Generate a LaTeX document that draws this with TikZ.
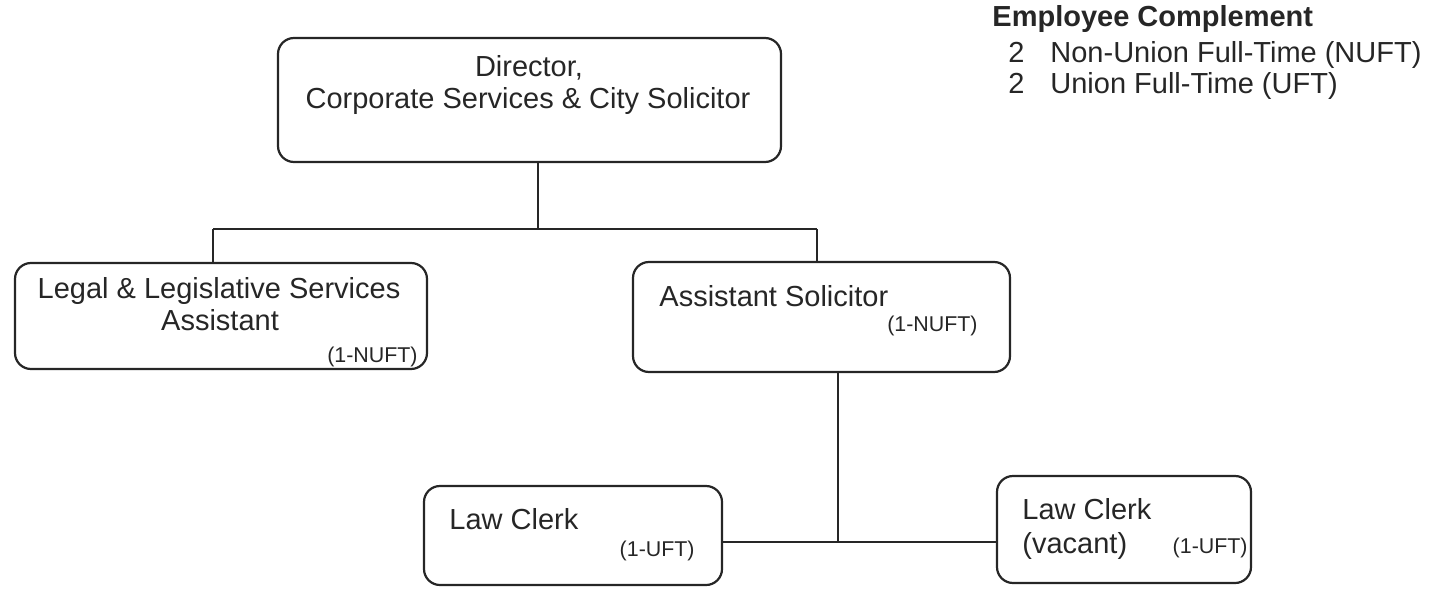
\documentclass[tikz,border=0pt]{standalone}
\usepackage{fontspec}
\setmainfont{Liberation Sans}
\begin{document}
\begin{tikzpicture}[x=0.5pt,y=-0.5pt,
		box/.style={draw=black!85,line width=1.1pt,rounded corners=8pt,inner sep=0pt},
		link/.style={draw=black!85,line width=0.8pt},
		txt/.style={font=\fontsize{14.5}{17}\selectfont,inner sep=0pt,text=black!85},
		small/.style={font=\fontsize{10.7}{13}\selectfont,inner sep=0pt,text=black!85}]
		\useasboundingbox (0,0) rectangle (1445,589);
		\node[box,minimum width=251.5pt,minimum height=62pt] (dir) at (529.5,100) {};
		\node[box,minimum width=206pt,minimum height=53pt] (legal) at (221,316) {};
		\node[box,minimum width=188.5pt,minimum height=55pt] (asst) at (821.5,317) {};
		\node[box,minimum width=149pt,minimum height=49.5pt] (clerk) at (573,535.5) {};
		\node[box,minimum width=127pt,minimum height=53.5pt] (vac) at (1124,529.5) {};
		\node[txt,anchor=base] (dirA) at (529,76) {Director,};
		\node[txt,anchor=base] (dirB) at (528,108) {Corporate Services \& City Solicitor};
		\node[txt,anchor=base] (legalA) at (219,298) {Legal \& Legislative Services};
		\node[txt,anchor=base] (legalB) at (220,330) {Assistant};
		\node[small,anchor=base east] (legalC) at (418,362) {(1-NUFT)};
		\node[txt,anchor=base west] (asstA) at (659,306) {Assistant Solicitor};
		\node[small,anchor=base east] (asstB) at (978,331) {(1-NUFT)};
		\node[txt,anchor=base west] (clerkA) at (449,529) {Law Clerk};
		\node[small,anchor=base east] (clerkB) at (695,556) {(1-UFT)};
		\node[txt,anchor=base west] (vacA) at (1022,519) {Law Clerk};
		\node[txt,anchor=base west] (vacB) at (1022,553) {(vacant)};
		\node[small,anchor=base east] (vacC) at (1248,553) {(1-UFT)};
		\node[txt,anchor=base west,font=\fontsize{14.5}{17}\selectfont\bfseries] (comp) at (992,26) {Employee Complement};
		\node[txt,anchor=base west] (compA) at (1008,62) {2};
		\node[txt,anchor=base west] (compB) at (1050,62) {Non-Union Full-Time (NUFT)};
		\node[txt,anchor=base west] (compC) at (1008,93) {2};
		\node[txt,anchor=base west] (compD) at (1050,93) {Union Full-Time (UFT)};
		\coordinate (bus) at (538,229);
		\coordinate (busL) at (213,229);
		\coordinate (busR) at (817,229);
		\coordinate (low) at (838,542);
		\draw[link] (dir.south -| bus) -- (bus);
		\draw[link] (busL) -- (busR);
		\draw[link] (busL) -- (legal.north -| busL);
		\draw[link] (busR) -- (asst.north -| busR);
		\draw[link] (asst.south -| low) -- (low);
		\draw[link] (clerk.east |- low) -- (vac.west |- low);
\end{tikzpicture}
\end{document}
